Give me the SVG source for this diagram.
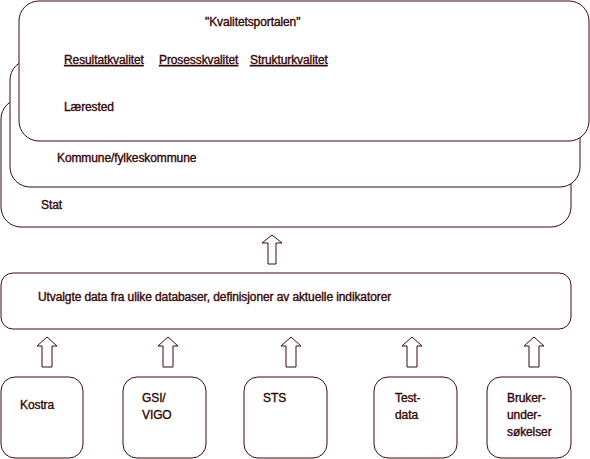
<svg xmlns="http://www.w3.org/2000/svg" width="590" height="459" viewBox="0 0 590 459">
<style>
.box{fill:#fff;stroke:#3b0a0a;stroke-width:1}
.t{font-family:"Liberation Sans",Arial,sans-serif;font-size:12px;fill:#330505;stroke:#330505;stroke-width:0.35;letter-spacing:-0.1px}
.u{text-decoration:underline}
.arr{fill:#fff;stroke:#3b0a0a;stroke-width:1}
</style>
<rect width="590" height="459" fill="#fff"/>
<g id="stat"><rect class="box" x="1" y="99" width="570" height="128" rx="20"/><text class="t" x="41" y="209">Stat</text></g>
<g id="kommune"><rect class="box" x="10" y="60" width="570" height="127" rx="20"/><text class="t" x="57" y="162">Kommune/fylkeskommune</text></g>
<g id="kvalitetsportalen"><rect class="box" x="19" y="1" width="570" height="140" rx="20"/>
<text class="t" x="205" y="26">"Kvalitetsportalen"</text>
<text class="t u" x="64" y="64">Resultatkvalitet</text>
<text class="t u" x="159" y="64">Prosesskvalitet</text>
<text class="t u" x="250" y="64">Strukturkvalitet</text>
<text class="t" x="64" y="111">Lærested</text></g>
<g id="utvalgte"><rect class="box" x="1" y="273" width="570" height="56" rx="12"/><text class="t" x="38" y="301">Utvalgte data fra ulike databaser, definisjoner av aktuelle indikatorer</text></g>
<g id="kostra"><rect class="box" x="1" y="377" width="82" height="81" rx="14"/><text class="t" x="20" y="409">Kostra</text></g>
<g id="gsi"><rect class="box" x="123" y="377" width="83" height="81" rx="14"/><text class="t" x="142" y="402">GSI/</text><text class="t" x="142" y="419">VIGO</text></g>
<g id="sts"><rect class="box" x="244" y="377" width="83" height="81" rx="14"/><text class="t" x="263" y="402">STS</text></g>
<g id="testdata"><rect class="box" x="374" y="377" width="83" height="81" rx="14"/><text class="t" x="395" y="402">Test-</text><text class="t" x="395" y="419">data</text></g>
<g id="bruker"><rect class="box" x="487" y="377" width="84" height="81" rx="14"/><text class="t" x="507" y="402">Bruker-</text><text class="t" x="507" y="419">under-</text><text class="t" x="507" y="436">søkelser</text></g>
<g id="connectors">
<polygon class="arr" points="272,235 282,243 276,243 276,264 268,264 268,243 262,243"/>
<polygon class="arr" points="47,337 57,346 52,346 52,367 42,367 42,346 37,346"/>
<polygon class="arr" points="168,337 178,346 173,346 173,367 163,367 163,346 158,346"/>
<polygon class="arr" points="291,337 301,346 296,346 296,367 286,367 286,346 281,346"/>
<polygon class="arr" points="412,337 422,346 417,346 417,367 407,367 407,346 402,346"/>
<polygon class="arr" points="534,337 544,346 539,346 539,367 529,367 529,346 524,346"/>
</g>
</svg>
